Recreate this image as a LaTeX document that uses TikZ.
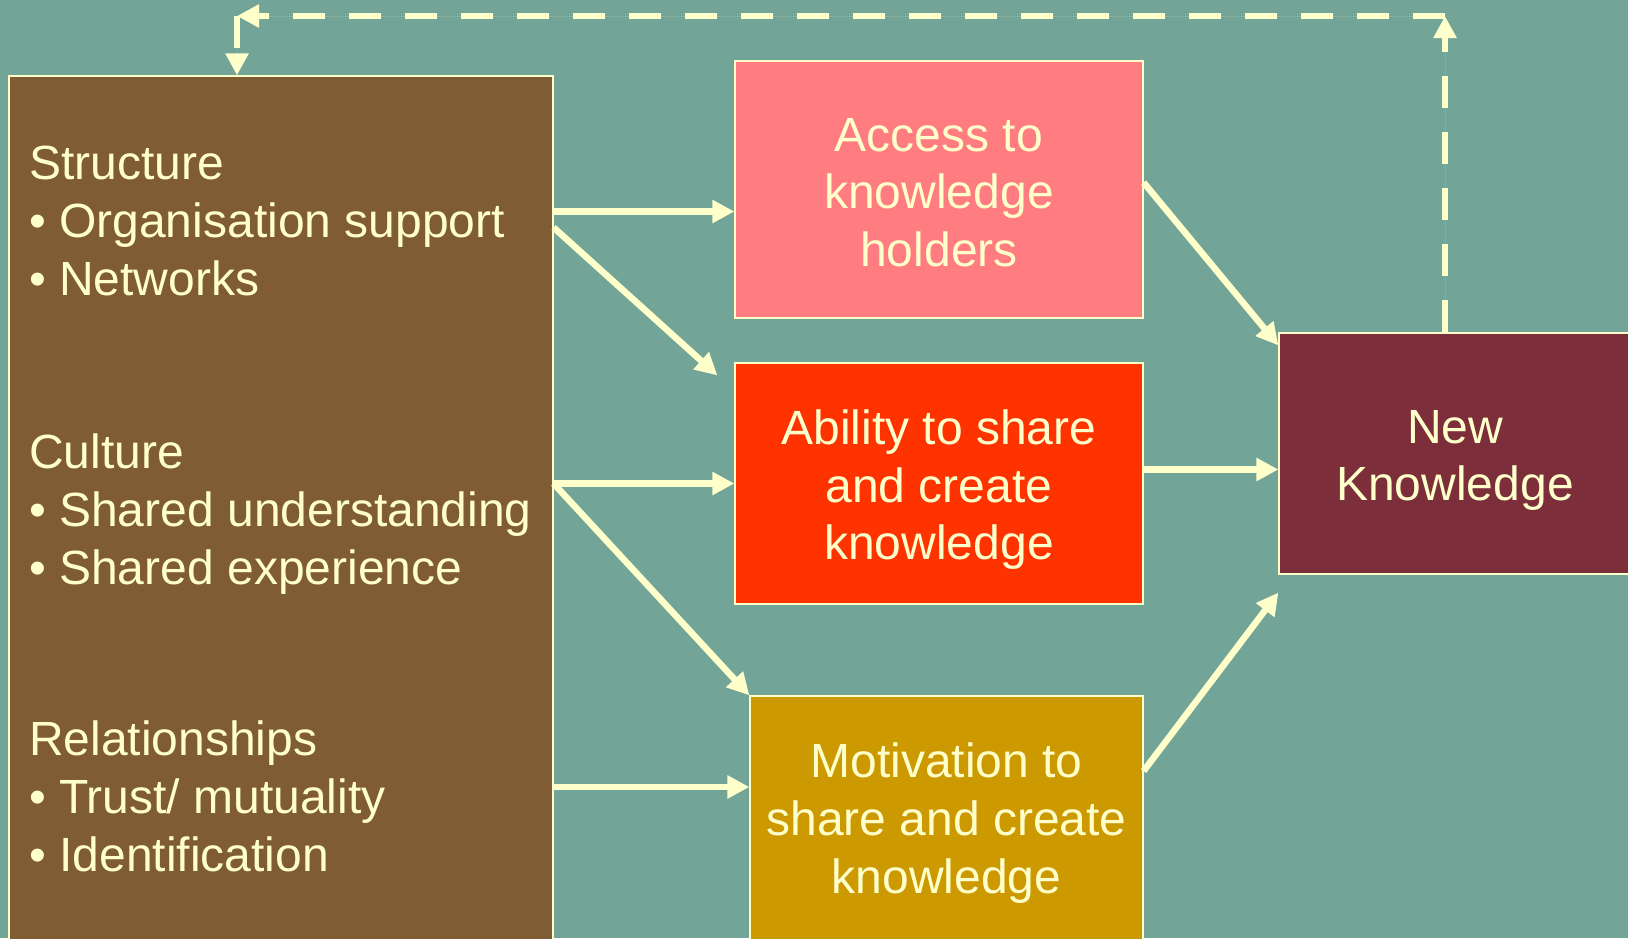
\documentclass[tikz,border=0pt]{standalone}
\usepackage{fontspec}
\setmainfont{Liberation Sans}
\usetikzlibrary{arrows.meta}

\definecolor{bgteal}{HTML}{72A598}
\definecolor{cream}{HTML}{FFFFCC}
\definecolor{brownbox}{HTML}{7F5C33}
\definecolor{pinkbox}{HTML}{FF7C80}
\definecolor{redbox}{HTML}{FF3300}
\definecolor{goldbox}{HTML}{CC9900}
\definecolor{maroonbox}{HTML}{7C2E3B}

\newcommand{\slidefont}{\fontsize{48}{57.6}\selectfont}
% invisible strut that pushes a box's text a little lower
\newcommand{\topgap}[1]{\rule{0pt}{#1}}

\begin{document}
\begin{tikzpicture}[
        x=1pt, y=-1pt,
        >={Triangle[length=22pt,width=22pt]},
        box/.style={draw=cream, line width=1.2pt, text=cream, align=center,
                    inner sep=0pt, font=\slidefont},
        listtext/.style={text=cream, align=left, inner sep=0pt, font=\slidefont},
        flow/.style={->, draw=cream, fill=cream, line width=6.5pt},
        feedback/.style={flow, dash pattern=on 32pt off 24pt}
        ]
        \path[fill=bgteal, use as bounding box] (0,0) rectangle (1628,938);
        \clip (0,0) rectangle (1628,938);

        % factors on the left (base anchor = last line)
        \node[box, fill=brownbox, minimum width=544pt, minimum height=884pt] (left) at (281,518) {};
        \node[listtext, anchor=base west] (struct) at (29,295)
            {Structure\\\textbullet\ Organisation support\\\textbullet\ Networks};
        \node[listtext, anchor=base west] (cult) at (29,584)
            {Culture\\\textbullet\ Shared understanding\\\textbullet\ Shared experience};
        \node[listtext, anchor=base west] (rel) at (29,871)
            {Relationships\\\textbullet\ Trust/ mutuality\\\textbullet\ Identification};

        % middle column
        \node[box, fill=pinkbox, minimum width=408pt, minimum height=257pt] (acc) at (939,189.5)
            {\topgap{39pt}Access to\\knowledge\\holders};
        \node[box, fill=redbox, minimum width=408pt, minimum height=241pt] (abil) at (939,483.5)
            {\topgap{47pt}Ability to share\\and create\\knowledge};
        \node[box, fill=goldbox, minimum width=393pt, minimum height=248pt] (mot) at (946.5,820)
            {\topgap{41pt}Motivation to\\share and create\\knowledge};

        % outcome
        \node[box, fill=maroonbox, minimum width=352pt, minimum height=241pt] (newk) at (1455,453.5)
            {\topgap{47pt}New\\Knowledge};

        \coordinate (acc in) at ([yshift=-22pt]acc.west);
        \coordinate (struct out) at (left.east |- acc in);
        \coordinate (mot in) at ([yshift=33pt]mot.west);
        \coordinate (abil out) at ([yshift=14pt]abil.east);

        \draw[flow] (struct out) -- (acc in);
        \draw[flow] ([yshift=-16pt]struct out) -- ([xshift=-17pt,yshift=-13pt]abil.north west);
        \draw[flow] (left.east |- abil.west) -- (abil.west);
        \draw[flow] (left.east |- abil.west) -- (mot.north west);
        \draw[flow] (left.east |- mot in) -- (mot in);

        \draw[flow] ([yshift=7pt]acc.east) -- ([yshift=-13pt]newk.north west);
        \draw[flow] (abil out) -- (abil out -| newk.west);
        \draw[flow] ([yshift=49pt]mot.east) -- ([yshift=-18pt]newk.south west);

        % feedback loop back to the factors
        \coordinate (fb top) at (1445,16);
        \coordinate (fb corner) at (237,16);
        \draw[feedback] (fb top |- newk.north) -- (fb top);
        \draw[feedback] (fb top) -- (fb corner);
        \draw[feedback] (fb corner) -- (fb corner |- left.north);
\end{tikzpicture}
\end{document}
